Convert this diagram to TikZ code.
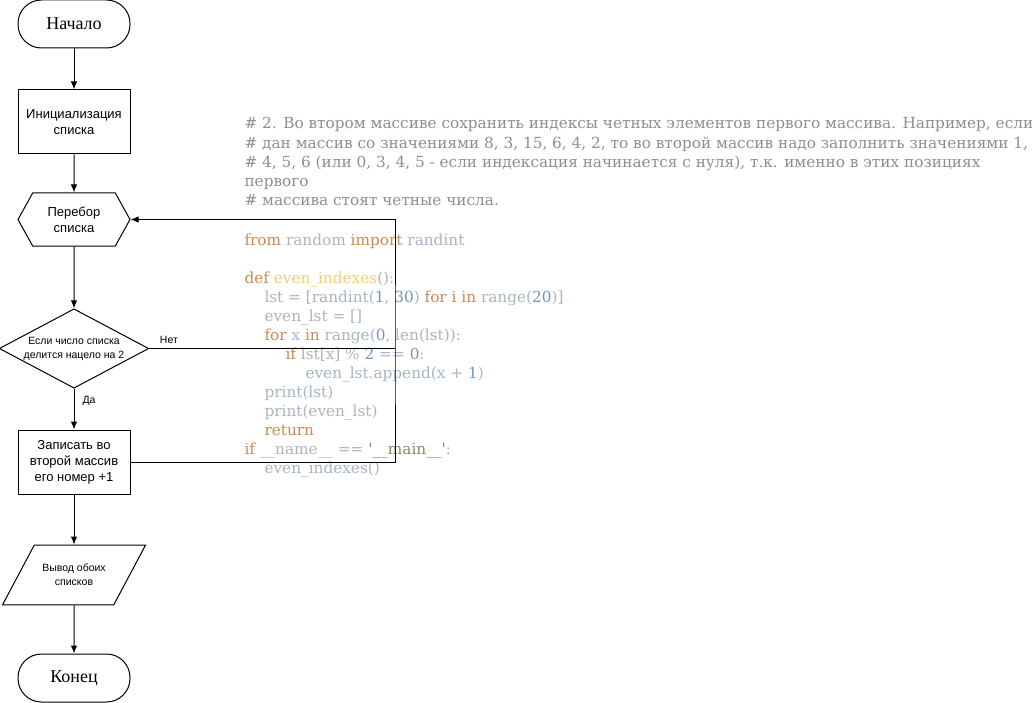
\documentclass[tikz,border=0pt]{standalone}
\usepackage{fontspec}
\setmainfont{Liberation Sans}
\newfontfamily\timesfont{Liberation Serif}
\newfontfamily\codefont{DejaVu Serif}
\usetikzlibrary{arrows.meta}
\usetikzlibrary{shapes.geometric,shapes.symbols}

\definecolor{cmtgray}{HTML}{8E8E8E}
\definecolor{kwcol}{HTML}{CC8A4E}
\definecolor{idcol}{HTML}{A9B4C2}
\definecolor{numcol}{HTML}{6F97BE}
\definecolor{fncol}{HTML}{F2CB7E}
\definecolor{strcol}{HTML}{7A9160}

\newcommand{\pykw}[1]{\textcolor{kwcol}{#1}}
\newcommand{\pynum}[1]{\textcolor{numcol}{#1}}
\newcommand{\pyfn}[1]{\textcolor{fncol}{#1}}
\newcommand{\pystr}[1]{\textcolor{strcol}{#1}}

\begin{document}
\begin{tikzpicture}[x=1pt,y=-1pt,line width=1pt,
    arr/.style={-{Latex[length=8pt,width=6.5pt]}},
    term/.style={draw,rounded corners=23.5pt,minimum width=112pt,minimum height=48pt,
      font=\timesfont\fontsize{18}{20}\selectfont},
    proc/.style={draw,minimum width=112pt,minimum height=64pt,align=center,
      font=\fontsize{13}{16}\selectfont},
    loopbox/.style={draw,signal,signal to=west and east,signal pointer angle=122,
      minimum width=112pt,minimum height=53pt,align=center,inner sep=0pt,
      font=\fontsize{13}{16}\selectfont},
    cond/.style={draw,diamond,aspect=1.883,inner xsep=2.5pt,inner ysep=0pt,
      align=center,font=\fontsize{10.5}{14}\selectfont},
    io/.style={draw,trapezium,trapezium left angle=62,trapezium right angle=118,
      inner xsep=8pt,inner ysep=19pt,
      align=center,font=\fontsize{10.5}{14}\selectfont},
    lbl/.style={inner sep=0pt,font=\fontsize{10.5}{12}\selectfont},
    cmt/.style={anchor=base west,inner sep=0pt,text=cmtgray,font=\codefont\fontsize{15.3}{17}\selectfont},
    code/.style={anchor=base west,inner sep=0pt,text=idcol,font=\codefont\fontsize{15.3}{17}\selectfont}]

  \useasboundingbox (0,0) rectangle (1032,703);

  % task text
  \foreach \txt [count=\i] in {
      {\# 2. Во втором массиве сохранить индексы четных элементов первого массива. Например, если},
      {\# дан массив со значениями 8, 3, 15, 6, 4, 2, то во второй массив надо заполнить значениями 1,},
      {\# 4, 5, 6 (или 0, 3, 4, 5 - если индексация начинается с нуля), т.к. именно в этих позициях},
      {первого},
      {\# массива стоят четные числа.}} {
    \node[cmt] (task\i) at (244,{129+19.25*(\i-1)}) {\txt};
  }

  % python code
  \node[code] (c1) at (244,245) {\pykw{from} random \pykw{import} randint};
  \node[code] (c2) at (244,283) {\pykw{def} \pyfn{even\_indexes}():};
  \node[code] (c3) at (264,302) {lst = [randint(\pynum{1}, \pynum{30}) \pykw{for i in} range(\pynum{20})]};
  \node[code] (c4) at (264,321) {even\_lst = []};
  \node[code] (c5) at (264,340) {\pykw{for} x \pykw{in} range(\pynum{0}, len(lst)):};
  \node[code] (c6) at (285,359) {\pykw{if} lst[x] \% \pynum{2} == \pynum{0}:};
  \node[code] (c7) at (305,378) {even\_lst.append(x + \pynum{1})};
  \node[code] (c8) at (264,397) {print(lst)};
  \node[code] (c9) at (264,416) {print(even\_lst)};
  \node[code] (c10) at (264,435) {\pykw{return}};
  \node[code] (c11) at (244,454) {\pykw{if} \_\_name\_\_ == \pystr{'\_\_main\_\_'}:};
  \node[code] (c12) at (264,473) {even\_indexes()};

  % flowchart
  \node[term] (start) at (74,24) {Начало};
  \node[proc] (init) at (74,122) {Инициализация\\списка};
  \node[loopbox] (loop) at (74,219.5) {Перебор\\списка};
  \node[cond] (check) at (74,348.5) {Если число списка\\делится нацело на 2};
  \node[proc] (save) at (74,462) {Записать во\\второй массив\\его номер +1};
  \node[io] (show) at (74,575) {Вывод обоих\\списков};
  \node[term] (stop) at (74,678) {Конец};

  \coordinate (noturn) at (395,348.5);
  \coordinate (saveturn) at (395,462);
  \coordinate (loopturn) at (395,219.5);

  % connectors
  \draw[arr] (start) -- (init);
  \draw[arr] (init) -- (loop);
  \draw[arr] (loop) -- (check);
  \draw[arr] (check) -- node[lbl,pos=0.3,right=8pt] {Да} (save);
  \draw[arr] (save) -- (show);
  \draw[arr] (show) -- (stop);
  \draw (check.east) -- node[lbl,pos=0.08,above=4pt] {Нет} (noturn);
  \draw[arr] (save.east) -- (saveturn) -- (noturn) -- (loopturn) -- (loop.east);

\end{tikzpicture}
\end{document}
